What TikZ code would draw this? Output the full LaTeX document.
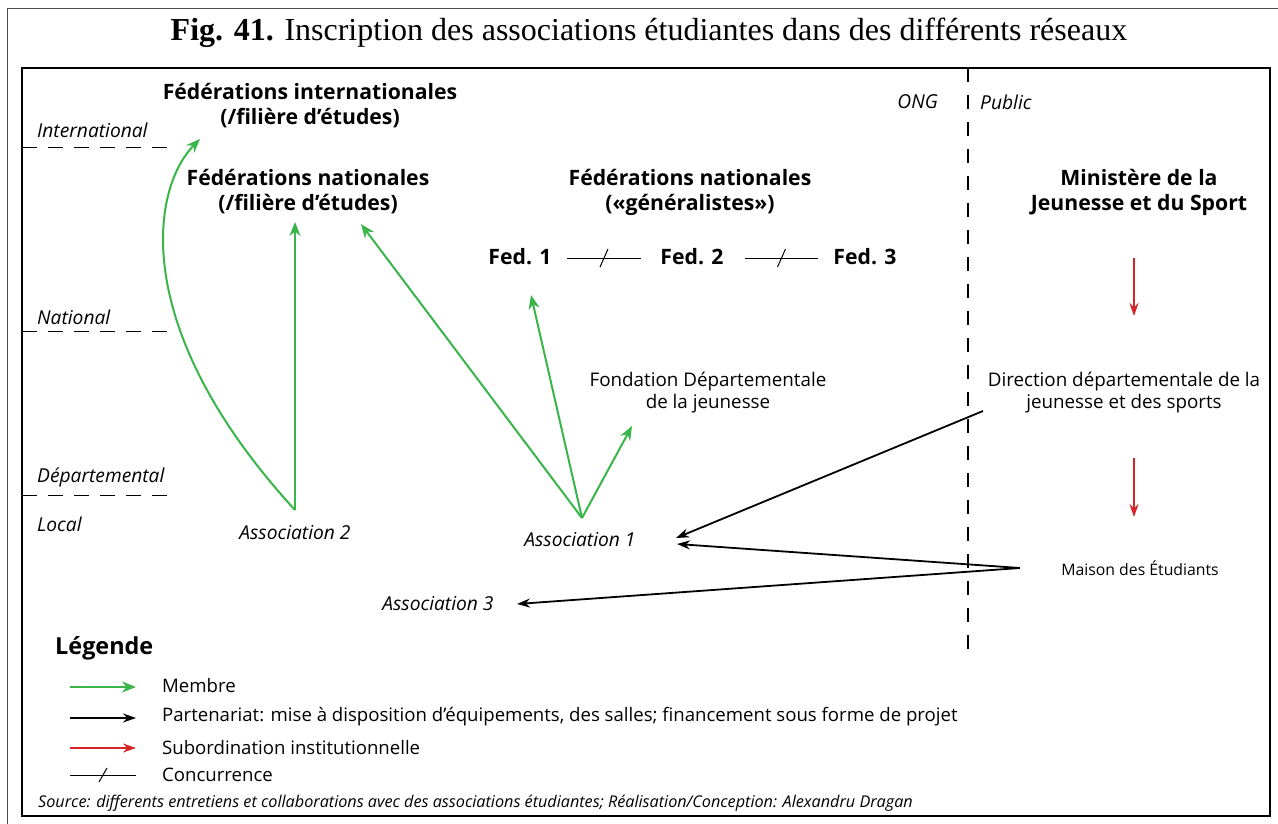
\documentclass[tikz,border=0pt]{standalone}
\usepackage{fontspec}
\setmainfont{Open Sans}
\newfontfamily\titlefont{Liberation Serif}
\usetikzlibrary{arrows.meta,calc}
\definecolor{vert}{RGB}{57,181,74}
\definecolor{rouge}{RGB}{214,36,41}
\begin{document}
\begin{tikzpicture}[x=1pt,y=-1pt,
  boldlab/.style={font=\fontsize{21.2}{25}\selectfont\bfseries, align=center, inner sep=0pt},
  itlab/.style={font=\fontsize{19.2}{22}\selectfont\itshape, inner sep=0pt},
  reglab/.style={font=\fontsize{18.8}{22}\selectfont, align=center, inner sep=0pt},
  levelline/.style={line width=0.9pt, dash pattern=on 15pt off 11pt},
  membre/.style={draw=vert, line width=2pt, -{Stealth[length=14pt,width=11pt]}},
  partner/.style={draw=black, line width=1.8pt, -{Stealth[length=13pt,width=9pt]}},
  subord/.style={draw=rouge, line width=2pt, -{Stealth[length=13pt,width=9pt]}},
  concline/.style={line width=1pt},
]
\useasboundingbox (0,0) rectangle (1278,824);
\fill[white] (0,0) rectangle (1278,824);
% frames
\draw[line width=0.8pt, black!70] (7,8) -- (1278,8);
\draw[line width=0.8pt, black!70] (7,8) -- (7,824);
\draw[line width=2.4pt] (22,68) rectangle (1270,816);
% title
\node[font=\titlefont\fontsize{32}{36}\selectfont, inner sep=0pt] (title) at (649,33) {\textbf{Fig. 41.} Inscription des associations étudiantes dans des différents réseaux};
% level lines
\draw[levelline] (22,147) -- (168,147);
\draw[levelline] (22,331) -- (168,331);
\draw[levelline] (22,495) -- (168,495);
\node[itlab, anchor=west] (lint) at (37,130) {International};
\node[itlab, anchor=west] (lnat) at (37,317) {National};
\node[itlab, anchor=west] (ldep) at (37,477) {Départemental};
\node[itlab, anchor=west] (lloc) at (37,524) {Local};
% ONG / public
\draw[line width=1.2pt, dash pattern=on 14pt off 13pt] (968,68) -- (968,652);
\node[itlab, anchor=east] (ong) at (938,102) {ONG};
\node[itlab, anchor=west] (pub) at (980,102) {Public};
% main labels
\node[boldlab] (fint) at (310,106) {Fédérations internationales\\(/filière d’études)};
\node[boldlab] (fnf) at (308,192) {Fédérations nationales\\(/filière d’études)};
\node[boldlab] (fng) at (690,192) {Fédérations nationales\\(«généralistes»)};
\node[boldlab] (min) at (1139,192) {Ministère de la\\Jeunesse et du Sport};
\node[boldlab, anchor=center] (fed1) at (520,257) {Fed. 1};
\node[boldlab, anchor=center] (fed2) at (692,257) {Fed. 2};
\node[boldlab, anchor=center] (fed3) at (865,257) {Fed. 3};
\node[reglab] (fond) at (708,393) {Fondation Départementale\\de la jeunesse};
\node[reglab] (ddjs) at (1124,393) {Direction départementale de la\\jeunesse et des sports};
\node[font=\fontsize{15.8}{18}\selectfont, inner sep=0pt] (mde) at (1140,568) {Maison des Étudiants};
\node[itlab] (as2) at (295,533) {Association 2};
\node[itlab] (as1) at (580,540) {Association 1};
\node[itlab] (as3) at (438,604) {Association 3};
% concurrence
\coordinate (c1a) at (567,258); \coordinate (c1b) at (641,258);
\coordinate (c2a) at (745,258); \coordinate (c2b) at (818,258);
\draw[concline] (c1a) -- (c1b);
\draw[concline] ($(c1a)!0.5!(c1b)+(4,-9)$) -- ($(c1a)!0.5!(c1b)+(-4,9)$);
\draw[concline] (c2a) -- (c2b);
\draw[concline] ($(c2a)!0.5!(c2b)+(4,-9)$) -- ($(c2a)!0.5!(c2b)+(-4,9)$);
% green arrows
\coordinate (a2) at (295,510);
\coordinate (a1) at (582,518);
\coordinate (tfint) at (200,139);
\coordinate (tfnf) at (295,222);
\coordinate (tfnf2) at (361,224);
\coordinate (tfed1) at (531,295);
\coordinate (tfond) at (632,426);
\draw[membre] (a2) .. controls (130,330) and (150,190) .. (tfint);
\draw[membre] (a2) -- (tfnf);
\draw[membre] (a1) -- (tfnf2);
\draw[membre] (a1) -- (tfed1);
\draw[membre] (a1) -- (tfond);
% black arrows
\coordinate (sddjs) at (983,411);
\coordinate (smde) at (1020,568);
\coordinate (ta1a) at (676,538);
\coordinate (ta1b) at (677,544);
\coordinate (ta3) at (517,604);
\draw[partner] (sddjs) -- (ta1a);
\draw[partner] (smde) -- (ta1b);
\draw[partner] (smde) -- (ta3);
% red arrows
\coordinate (r1a) at (1134,258); \coordinate (r1b) at (1134,316);
\coordinate (r2a) at (1134,458); \coordinate (r2b) at (1134,517);
\draw[subord] (r1a) -- (r1b);
\draw[subord] (r2a) -- (r2b);
% legend
\node[font=\fontsize{23.4}{27}\selectfont\bfseries, anchor=west, inner sep=0pt] (leg) at (55,648) {Légende};
\coordinate (l1a) at (70,687); \coordinate (l1b) at (136,687);
\coordinate (l2a) at (70,718); \coordinate (l2b) at (136,718);
\coordinate (l3a) at (70,748); \coordinate (l3b) at (136,748);
\coordinate (l4a) at (70,775); \coordinate (l4b) at (136,775);
\draw[membre] (l1a) -- (l1b);
\draw[partner] (l2a) -- (l2b);
\draw[subord] (l3a) -- (l3b);
\draw[concline] (l4a) -- (l4b);
\draw[concline] ($(l4a)!0.5!(l4b)+(4,-7)$) -- ($(l4a)!0.5!(l4b)+(-4,7)$);
\node[reglab, anchor=west, font=\fontsize{18.6}{22}\selectfont] (t1) at (162,686) {Membre};
\node[reglab, anchor=west, font=\fontsize{18.6}{22}\selectfont] (t2) at (162,717) {Partenariat: mise à disposition d’équipements, des salles; financement sous forme de projet};
\node[reglab, anchor=west, font=\fontsize{18.6}{22}\selectfont] (t3) at (162,748) {Subordination institutionnelle};
\node[reglab, anchor=west, font=\fontsize{18.6}{22}\selectfont] (t4) at (162,775) {Concurrence};
\node[font=\fontsize{16.2}{19}\selectfont\itshape, anchor=west, inner sep=0pt] (src) at (38,803) {Source: differents entretiens et collaborations avec des associations étudiantes; Réalisation/Conception: Alexandru Dragan};
\end{tikzpicture}
\end{document}
